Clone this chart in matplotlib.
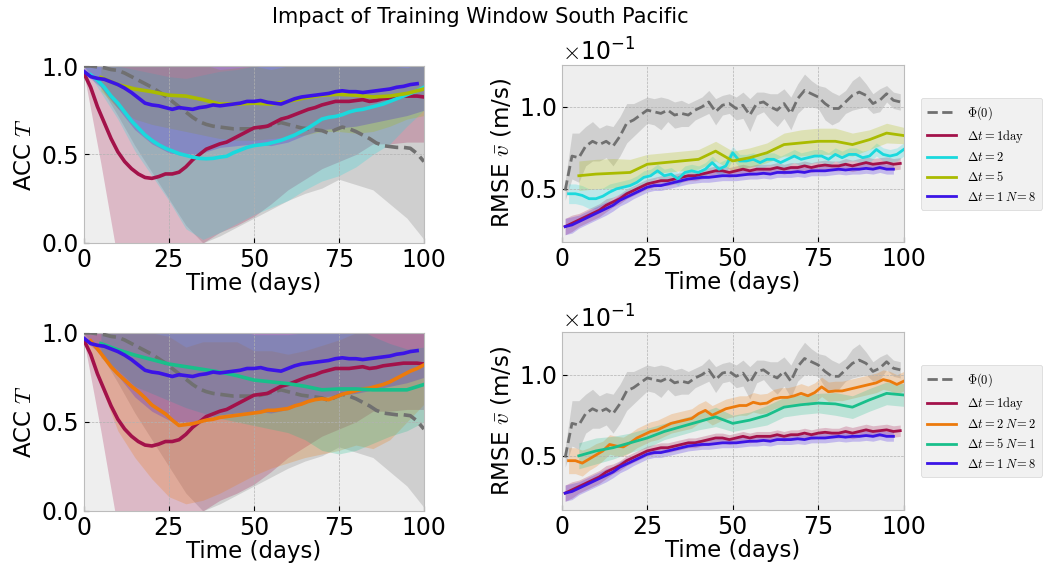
import matplotlib
matplotlib.use("Agg")
import matplotlib.pyplot as plt
import numpy as np

plt.style.use("bmh")
plt.rcParams["mathtext.fontset"] = "cm"
plt.rcParams["xtick.labelsize"] = 17
plt.rcParams["ytick.labelsize"] = 17
plt.rcParams["axes.labelsize"] = 16.5

# ---------------- data ----------------
# time grids (days)
t_d2 = np.arange(0, 101, 2)        # daily runs, read every 2 days
t_d2b = np.arange(0, 99, 2)        # N=8 run stops just before day 100
t_2 = np.arange(2, 101, 2)         # dt = 2 runs
t_5 = np.arange(5, 101, 5)         # dt = 5 runs
t_band = np.arange(0, 101, 5)      # ACC spread grid
t_band5 = np.arange(5, 101, 5)

# ---- ACC T ----
acc_phi = [1.0, 1.0, 0.995, 0.99, 0.98, 0.975, 0.96, 0.94, 0.92, 0.90, 0.88,
           0.855, 0.83, 0.80, 0.77, 0.74, 0.71, 0.685, 0.67, 0.66, 0.655,
           0.65, 0.645, 0.645, 0.645, 0.645, 0.65, 0.66, 0.67, 0.68, 0.67,
           0.66, 0.65, 0.645, 0.64, 0.635, 0.62, 0.64, 0.655, 0.645, 0.63,
           0.61, 0.59, 0.565, 0.55, 0.545, 0.54, 0.54, 0.535, 0.505, 0.46]
acc_dt1 = [0.96, 0.88, 0.77, 0.68, 0.59, 0.515, 0.46, 0.42, 0.39, 0.37, 0.365,
           0.375, 0.39, 0.39, 0.40, 0.43, 0.47, 0.50, 0.53, 0.545, 0.56,
           0.57, 0.59, 0.61, 0.63, 0.65, 0.655, 0.66, 0.68, 0.70, 0.71,
           0.725, 0.74, 0.755, 0.765, 0.78, 0.79, 0.80, 0.80, 0.80, 0.805,
           0.81, 0.80, 0.805, 0.815, 0.82, 0.825, 0.83, 0.83, 0.83, 0.825]
acc_n8 = [0.97, 0.94, 0.93, 0.925, 0.91, 0.895, 0.875, 0.85, 0.82, 0.79, 0.78,
          0.775, 0.765, 0.755, 0.765, 0.76, 0.755, 0.765, 0.77, 0.78, 0.775,
          0.78, 0.785, 0.79, 0.80, 0.80, 0.805, 0.795, 0.79, 0.785, 0.80,
          0.815, 0.825, 0.83, 0.835, 0.84, 0.845, 0.855, 0.86, 0.855, 0.855,
          0.85, 0.855, 0.86, 0.865, 0.87, 0.88, 0.885, 0.895, 0.90]
acc_dt2 = [0.95, 0.92, 0.88, 0.83, 0.79, 0.74, 0.69, 0.65, 0.61, 0.58,
           0.555, 0.535, 0.52, 0.505, 0.495, 0.485, 0.478, 0.476, 0.478, 0.485,
           0.49, 0.51, 0.525, 0.54, 0.55, 0.555, 0.56, 0.57, 0.58, 0.595,
           0.61, 0.63, 0.65, 0.675, 0.70, 0.71, 0.715, 0.725, 0.74, 0.75,
           0.755, 0.765, 0.775, 0.785, 0.80, 0.815, 0.83, 0.845, 0.86, 0.88]
acc_dt5 = [0.935, 0.895, 0.87, 0.855, 0.835, 0.83, 0.81, 0.785, 0.785, 0.79,
           0.785, 0.80, 0.82, 0.835, 0.84, 0.835, 0.825, 0.83, 0.845, 0.87]
acc_dt2n2 = [0.955, 0.91, 0.86, 0.81, 0.77, 0.735, 0.70, 0.67, 0.635, 0.595,
             0.57, 0.545, 0.51, 0.48, 0.485, 0.49, 0.50, 0.51, 0.515, 0.525,
             0.53, 0.535, 0.54, 0.545, 0.55, 0.555, 0.565, 0.565, 0.57, 0.575,
             0.59, 0.60, 0.615, 0.625, 0.63, 0.625, 0.64, 0.655, 0.665, 0.675,
             0.685, 0.69, 0.70, 0.71, 0.725, 0.745, 0.765, 0.785, 0.80, 0.82]
acc_dt5n1 = [0.94, 0.905, 0.875, 0.85, 0.825, 0.81, 0.795, 0.78, 0.76, 0.735,
             0.725, 0.715, 0.70, 0.68, 0.685, 0.685, 0.68, 0.68, 0.68, 0.71]

# ACC spread (lower / upper edge)
acc_phi_lo = [1.0, 0.88, 0.72, 0.55, 0.40, 0.25, 0.10, 0.0, 0.04, 0.09, 0.14,
              0.19, 0.24, 0.28, 0.31, 0.36, 0.33, 0.30, 0.22, 0.14, 0.02]
acc_phi_hi = [1.0, 1.05, 1.1, 1.1, 1.1, 1.1, 1.1, 1.1, 1.1, 1.1, 1.1,
              1.1, 1.1, 1.1, 1.1, 1.1, 1.1, 1.1, 1.1, 1.1, 1.1]
acc_dt1_lo = [0.96, 0.45, -0.1, -0.35, -0.4, -0.35, -0.2, 0.0, 0.06, 0.1, 0.15,
              0.22, 0.3, 0.36, 0.42, 0.46, 0.5, 0.56, 0.56, 0.57, 0.57]
acc_dt1_hi = [1.0, 1.1, 1.1, 1.1, 1.1, 1.1, 1.1, 1.1, 1.1, 1.1, 1.1,
              1.1, 1.1, 1.1, 1.1, 1.1, 1.1, 1.1, 1.1, 1.1, 1.1]
acc_n8_lo = [0.96, 0.88, 0.76, 0.64, 0.56, 0.51, 0.49, 0.51, 0.54, 0.55, 0.56,
             0.55, 0.57, 0.61, 0.64, 0.65, 0.66, 0.68, 0.70, 0.72, 0.75]
acc_n8_hi = [1.0, 1.0, 1.02, 1.0, 1.0, 1.0, 1.02, 1.03, 1.02, 1.02, 1.04,
             1.05, 1.05, 1.05, 1.04, 1.06, 1.05, 1.04, 1.04, 1.06, 1.05]
acc_dt2_lo = [1.0, 0.85, 0.70, 0.52, 0.38, 0.24, 0.08, 0.02, 0.06, 0.11, 0.16,
              0.20, 0.24, 0.30, 0.35, 0.38, 0.43, 0.50, 0.56, 0.66, 0.75]
acc_dt2_hi = [1.0, 1.0, 1.0, 0.98, 0.96, 0.94, 0.93, 0.95, 0.97, 0.98, 1.0,
              1.0, 1.0, 1.02, 1.04, 1.05, 1.05, 1.04, 1.03, 1.02, 1.01]
acc_dt5_lo = [0.86, 0.76, 0.70, 0.67, 0.65, 0.63, 0.61, 0.59, 0.58, 0.58,
              0.59, 0.60, 0.61, 0.63, 0.63, 0.62, 0.63, 0.66, 0.70, 0.72]
acc_dt5_hi = [1.0, 1.02, 1.04, 1.04, 1.02, 1.03, 1.01, 0.98, 0.99, 1.0,
              0.98, 1.0, 1.03, 1.04, 1.05, 1.05, 1.02, 1.0, 0.99, 1.02]
acc_dt2n2_lo = [0.96, 0.70, 0.45, 0.30, 0.18, 0.08, 0.04, 0.06, 0.10, 0.15, 0.20,
                0.24, 0.27, 0.30, 0.32, 0.34, 0.37, 0.35, 0.40, 0.50, 0.60]
acc_dt2n2_hi = [1.0, 1.0, 1.0, 1.0, 1.0, 0.98, 0.92, 0.95, 0.95, 0.95, 0.9,
                0.9, 0.88, 0.9, 0.93, 0.96, 1.0, 1.0, 1.0, 1.0, 1.0]
acc_dt5n1_lo = [0.86, 0.79, 0.70, 0.66, 0.62, 0.58, 0.55, 0.52, 0.50, 0.48,
                0.46, 0.44, 0.40, 0.34, 0.32, 0.34, 0.38, 0.42, 0.45, 0.50]
acc_dt5n1_hi = [1.0, 1.02, 1.04, 1.04, 1.03, 1.04, 1.04, 1.04, 1.02, 0.99,
                0.99, 0.99, 1.0, 1.02, 1.05, 1.03, 0.98, 0.94, 0.91, 0.92]

# ---- RMSE v (in units of 1e-1 m/s) ----
t_r = np.arange(1, 101, 2)
rmse_phi = [0.49, 0.70, 0.69, 0.76, 0.79, 0.77, 0.79, 0.76, 0.82, 0.90,
            0.92, 0.95, 0.98, 0.97, 0.96, 0.98, 0.95, 0.96, 0.95, 0.98,
            1.00, 1.03, 0.97, 1.01, 1.02, 0.99, 1.01, 0.95, 1.02, 1.03,
            1.00, 0.98, 1.02, 0.96, 1.05, 1.10, 1.08, 1.06, 1.02, 0.99,
            0.99, 1.03, 1.07, 1.09, 1.07, 1.02, 1.04, 1.08, 1.04, 1.03]
rmse_phi_sd = [0.06, 0.14, 0.15, 0.12, 0.12, 0.10, 0.10, 0.12, 0.12, 0.12,
               0.10, 0.09, 0.08, 0.08, 0.10, 0.07, 0.08, 0.08, 0.07, 0.06,
               0.06, 0.07, 0.08, 0.06, 0.06, 0.07, 0.08, 0.10, 0.07, 0.06,
               0.08, 0.10, 0.09, 0.10, 0.09, 0.10, 0.08, 0.07, 0.10, 0.10,
               0.08, 0.07, 0.09, 0.10, 0.07, 0.06, 0.07, 0.05, 0.05, 0.05]
rmse_dt1 = [0.27, 0.29, 0.31, 0.33, 0.35, 0.37, 0.40, 0.42, 0.44, 0.47,
            0.49, 0.51, 0.53, 0.54, 0.55, 0.55, 0.56, 0.57, 0.58, 0.58,
            0.59, 0.60, 0.61, 0.61, 0.60, 0.61, 0.62, 0.61, 0.62, 0.62,
            0.62, 0.63, 0.62, 0.63, 0.63, 0.64, 0.63, 0.64, 0.645, 0.64,
            0.64, 0.65, 0.64, 0.65, 0.66, 0.65, 0.655, 0.66, 0.65, 0.655]
rmse_dt1_sd = [0.05, 0.05, 0.04, 0.04, 0.04, 0.04, 0.04, 0.03, 0.03, 0.03,
               0.03, 0.03, 0.03, 0.03, 0.03, 0.03, 0.03, 0.03, 0.03, 0.03,
               0.03, 0.03, 0.03, 0.03, 0.03, 0.03, 0.03, 0.03, 0.03, 0.03,
               0.03, 0.03, 0.03, 0.03, 0.03, 0.03, 0.03, 0.03, 0.03, 0.03,
               0.03, 0.035, 0.035, 0.035, 0.035, 0.035, 0.035, 0.035, 0.035, 0.035]
rmse_n8 = [0.27, 0.28, 0.30, 0.32, 0.34, 0.36, 0.38, 0.40, 0.43, 0.45,
           0.47, 0.49, 0.51, 0.52, 0.52, 0.53, 0.54, 0.55, 0.56, 0.565,
           0.57, 0.57, 0.575, 0.58, 0.58, 0.58, 0.585, 0.59, 0.59, 0.595,
           0.59, 0.60, 0.60, 0.60, 0.605, 0.60, 0.61, 0.61, 0.61, 0.615,
           0.62, 0.615, 0.62, 0.62, 0.625, 0.62, 0.63, 0.62, 0.62, 0.615]
rmse_n8_sd = [0.05, 0.05, 0.04, 0.04, 0.04, 0.04, 0.04, 0.035, 0.035, 0.035,
              0.03, 0.03, 0.03, 0.03, 0.03, 0.03, 0.03, 0.03, 0.03, 0.03,
              0.03, 0.03, 0.03, 0.03, 0.03, 0.03, 0.03, 0.03, 0.03, 0.03,
              0.03, 0.03, 0.03, 0.03, 0.03, 0.03, 0.03, 0.03, 0.03, 0.03,
              0.03, 0.03, 0.03, 0.03, 0.03, 0.03, 0.03, 0.03, 0.03, 0.03]
rmse_dt2 = [0.47, 0.47, 0.46, 0.44, 0.44, 0.455, 0.48, 0.50, 0.51, 0.52,
            0.54, 0.57, 0.58, 0.61, 0.58, 0.59, 0.56, 0.60, 0.61, 0.60,
            0.62, 0.66, 0.62, 0.64, 0.72, 0.67, 0.67, 0.68, 0.66, 0.68,
            0.68, 0.66, 0.68, 0.70, 0.68, 0.69, 0.70, 0.70, 0.68, 0.71,
            0.69, 0.71, 0.71, 0.69, 0.70, 0.74, 0.71, 0.70, 0.71, 0.74]
rmse_dt2_sd = [0.06, 0.06, 0.06, 0.06, 0.06, 0.05, 0.05, 0.04, 0.04, 0.04,
               0.04, 0.04, 0.04, 0.04, 0.04, 0.04, 0.04, 0.04, 0.04, 0.04,
               0.04, 0.04, 0.04, 0.04, 0.04, 0.04, 0.04, 0.04, 0.04, 0.04,
               0.04, 0.04, 0.04, 0.04, 0.04, 0.04, 0.04, 0.04, 0.04, 0.04,
               0.04, 0.04, 0.04, 0.04, 0.04, 0.04, 0.04, 0.04, 0.04, 0.04]
rmse_dt5 = [0.58, 0.59, 0.595, 0.60, 0.65, 0.66, 0.67, 0.68, 0.73, 0.67,
            0.69, 0.72, 0.77, 0.78, 0.79, 0.79, 0.77, 0.80, 0.84, 0.825]
rmse_dt5_sd = [0.09, 0.09, 0.09, 0.08, 0.06, 0.06, 0.06, 0.06, 0.06, 0.06,
               0.06, 0.06, 0.07, 0.08, 0.08, 0.08, 0.07, 0.06, 0.06, 0.05]
rmse_dt2n2 = [0.47, 0.47, 0.455, 0.48, 0.505, 0.53, 0.57, 0.56, 0.555, 0.58,
              0.61, 0.63, 0.65, 0.66, 0.68, 0.70, 0.71, 0.72, 0.73, 0.76,
              0.78, 0.75, 0.77, 0.79, 0.80, 0.81, 0.81, 0.83, 0.82, 0.825,
              0.85, 0.86, 0.86, 0.87, 0.885, 0.87, 0.89, 0.925, 0.895, 0.90,
              0.90, 0.91, 0.92, 0.93, 0.94, 0.95, 0.97, 0.96, 0.94, 0.96]
rmse_dt2n2_sd = [0.08, 0.08, 0.08, 0.07, 0.07, 0.06, 0.06, 0.06, 0.06, 0.06,
                 0.06, 0.06, 0.06, 0.06, 0.06, 0.06, 0.06, 0.06, 0.06, 0.06,
                 0.06, 0.06, 0.06, 0.06, 0.06, 0.06, 0.06, 0.06, 0.06, 0.06,
                 0.06, 0.06, 0.06, 0.06, 0.06, 0.06, 0.06, 0.06, 0.06, 0.06,
                 0.06, 0.06, 0.06, 0.06, 0.06, 0.06, 0.06, 0.06, 0.06, 0.06]
rmse_dt5n1 = [0.50, 0.53, 0.55, 0.58, 0.61, 0.65, 0.68, 0.71, 0.74, 0.70,
              0.72, 0.75, 0.80, 0.815, 0.825, 0.82, 0.80, 0.845, 0.885, 0.875]
rmse_dt5n1_sd = [0.08, 0.08, 0.07, 0.06, 0.06, 0.05, 0.05, 0.05, 0.06, 0.05,
                 0.05, 0.06, 0.06, 0.06, 0.06, 0.07, 0.07, 0.07, 0.07, 0.07]

# ---------------- styling ----------------
c_phi = "#707070"
c_dt1 = "#a3124a"
c_n8 = "#3b14e6"
c_dt2 = "#1ad9dd"
c_dt5 = "#aabb00"
c_dt2n2 = "#ec7a0c"
c_dt5n1 = "#19bf8b"

lab_phi = r"$\Phi(0)$"
lab_dt1 = r"$\Delta t = 1 \mathrm{day}$"
lab_n8 = r"$\Delta t = 1\ N\!=8$"

band_alpha = 0.24
scale = 1e-1

fig = plt.figure(figsize=(10.48, 5.69), dpi=100)
fig.suptitle("Impact of Training Window South Pacific", fontsize=15, x=0.458, y=0.988)

ax_acc_top = fig.add_axes([0.080, 0.573, 0.3245, 0.311])
ax_rmse_top = fig.add_axes([0.536, 0.575, 0.3263, 0.311])
ax_acc_bot = fig.add_axes([0.080, 0.102, 0.3245, 0.313])
ax_rmse_bot = fig.add_axes([0.536, 0.104, 0.3263, 0.313])


def acc_panel(ax, extra):
    series = [
        (t_d2, acc_phi, t_band, acc_phi_lo, acc_phi_hi, c_phi, "--"),
        (t_d2, acc_dt1, t_band, acc_dt1_lo, acc_dt1_hi, c_dt1, "-"),
    ] + extra + [
        (t_d2b, acc_n8, t_band, acc_n8_lo, acc_n8_hi, c_n8, "-"),
    ]
    for t, m, tb, lo, hi, c, ls in series:
        ax.fill_between(tb, lo, hi, color=c, alpha=band_alpha, lw=0, zorder=1)
    for t, m, tb, lo, hi, c, ls in series:
        ax.plot(t, m, color=c, ls=ls, lw=2.6, zorder=3)
    ax.set_xlim(0, 100)
    ax.set_ylim(0, 1)
    ax.set_xticks([0, 25, 50, 75, 100])
    ax.set_yticks([0.0, 0.5, 1.0])
    ax.set_xlabel("Time (days)", labelpad=0)
    ax.set_ylabel(r"ACC $T$")


def rmse_panel(ax, extra, ylim):
    series = [
        (t_r, rmse_phi, rmse_phi_sd, c_phi, "--", lab_phi),
        (t_r, rmse_dt1, rmse_dt1_sd, c_dt1, "-", lab_dt1),
    ] + extra + [
        (t_r[:-1], rmse_n8[:-1], rmse_n8_sd[:-1], c_n8, "-", lab_n8),
    ]
    for t, m, sd, c, ls, lab in series:
        m = np.array(m) * scale
        sd = np.array(sd) * scale
        ax.fill_between(t, m - sd, m + sd, color=c, alpha=band_alpha, lw=0, zorder=1)
    for t, m, sd, c, ls, lab in series:
        ax.plot(t, np.array(m) * scale, color=c, ls=ls, lw=2.0, zorder=3, label=lab)
    ax.set_xlim(0, 100)
    ax.set_ylim(*ylim)
    ax.set_xticks([0, 25, 50, 75, 100])
    ax.set_yticks([0.05, 0.10])
    ax.ticklabel_format(axis="y", style="sci", scilimits=(-1, -1), useMathText=True)
    ax.set_xlabel("Time (days)", labelpad=0)
    ax.set_ylabel(r"RMSE $\bar{v}$ (m/s)")
    ax.legend(loc="upper left", bbox_to_anchor=(1.05, 0.815), fontsize=9,
              handlelength=2.3, handletextpad=0.9, borderpad=0.5,
              labelspacing=0.5, borderaxespad=0.0)


acc_panel(ax_acc_top, [
    (t_2, acc_dt2, t_band, acc_dt2_lo, acc_dt2_hi, c_dt2, "-"),
    (t_5, acc_dt5, t_band5, acc_dt5_lo, acc_dt5_hi, c_dt5, "-"),
])
acc_panel(ax_acc_bot, [
    (t_2, acc_dt2n2, t_band, acc_dt2n2_lo, acc_dt2n2_hi, c_dt2n2, "-"),
    (t_5, acc_dt5n1, t_band5, acc_dt5n1_lo, acc_dt5n1_hi, c_dt5n1, "-"),
])

rmse_panel(ax_rmse_top, [
    (t_2, rmse_dt2, rmse_dt2_sd, c_dt2, "-", r"$\Delta t = 2$"),
    (t_5, rmse_dt5, rmse_dt5_sd, c_dt5, "-", r"$\Delta t = 5$"),
], (0.0177, 0.1256))
rmse_panel(ax_rmse_bot, [
    (t_2, rmse_dt2n2, rmse_dt2n2_sd, c_dt2n2, "-", r"$\Delta t = 2\ N\!=2$"),
    (t_5, rmse_dt5n1, rmse_dt5n1_sd, c_dt5n1, "-", r"$\Delta t = 5\ N\!=1$"),
], (0.0167, 0.1265))

fig.savefig("out.png", dpi=100)
